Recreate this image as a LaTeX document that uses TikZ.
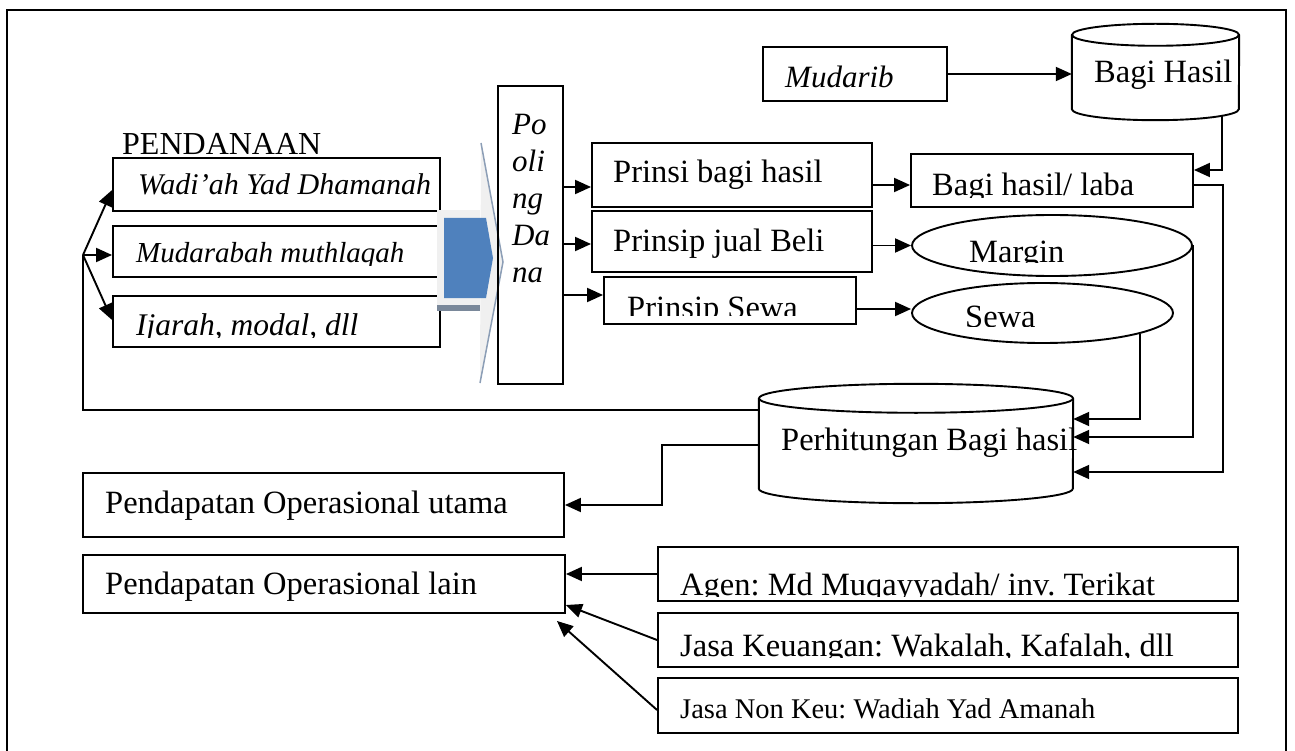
\documentclass[tikz,border=0pt]{standalone}
\usepackage{fontspec}
\setmainfont{Liberation Serif}
\usetikzlibrary{arrows.meta,shapes.geometric}

\definecolor{arrowblue}{RGB}{79,129,189}
\definecolor{arrowedge}{RGB}{140,158,182}
\definecolor{arrowshade}{RGB}{122,136,154}
\definecolor{arrowgray}{RGB}{240,240,240}

\tikzstyle{box} = [draw,line width=1.9pt,inner sep=0pt]
\tikzstyle{drum} = [inner sep=0pt]
\tikzstyle{oval} = [draw,line width=1.9pt,inner sep=0pt,ellipse]
\tikzstyle{edge} = [draw,line width=1.9pt,->,>={Triangle[length=16pt,width=14pt]}]
\tikzstyle{txt} = [inner sep=0pt,anchor=base west,font=\fontsize{32.5}{37}\selectfont]
\tikzstyle{itxt} = [txt,font=\fontsize{30}{37}\selectfont\itshape]
\tikzstyle{smalltxt} = [txt,font=\fontsize{28.5}{33}\selectfont]

\newcommand{\cuttext}[5]{\begin{scope}\clip (0,0) rectangle (1295,#4);
  \node[#1] (#2) at #3 {#5};\end{scope}}

\begin{document}
\frenchspacing
\begin{tikzpicture}[x=1pt,y=-1pt]
\useasboundingbox (0,0) rectangle (1295,751);
\draw[line width=2.4pt] (7,751) -- (7,10) -- (1286,10) -- (1286,751);

\foreach \name/\x/\y/\w/\h in {wadiah/276.5/184.5/327/53, mudarabah/276.5/251.5/327/51,
                               ijarah/276.5/321.5/327/51, mudarib/855/74/184/54,
                               prinsi/732/175/280/64, jual/732/241.5/280/61,
                               sewabox/730/300.5/252/47, laba/1052/180.5/282/53,
                               utama/323.5/505/481/64, lain/324/584/482/58,
                               agen/948/574/580/54, jasakeu/948/640/580/54,
                               jasanon/948/705.5/580/55}{
  \node[box,minimum width=\w pt,minimum height=\h pt] (\name) at (\x,\y) {};
}

% panah pendanaan
\fill[arrowgray] (437,210) rectangle (480,307);
\fill[arrowgray] (481,143) -- (503,262) -- (480,383) -- cycle;
\draw[line width=1.5pt,arrowedge] (481,143) -- (503,262) -- (480,383);
\fill[arrowshade] (437,305) rectangle (480,311);
\fill[arrowblue] (444,218) -- (486,218) -- (493,258) -- (486,298) -- (444,298) -- cycle;

\node[box,minimum width=65pt,minimum height=298pt] (poling) at (530.5,235) {};
\node[oval,minimum width=280pt,minimum height=61pt] (margin) at (1052,245.5) {};
\node[oval,minimum width=261pt,minimum height=60pt] (sewa) at (1042.5,313) {};

% tabung
\foreach \name/\x/\y/\rx/\ry/\h in {bagihasil/1155.5/72/83.5/11/96, perhit/916/443.5/157/14.5/119}{
  \node[drum,minimum width=2*\rx pt,minimum height=\h pt] (\name) at (\x,\y) {};
  \draw[line width=1.9pt] ([yshift=-\ry pt]\name.north) ellipse [x radius=\rx pt,y radius=\ry pt]
    ([yshift=-\ry pt]\name.north west) -- ([yshift=\ry pt]\name.south west)
    arc[start angle=180,end angle=360,x radius=\rx pt,y radius=\ry pt]
    -- ([yshift=-\ry pt]\name.north east);
}

\node[txt,font=\fontsize{32}{37}\selectfont] (pendanaan) at (122,155) {PENDANAAN};
\node[itxt] (wadiahtxt) at (138,195) {Wadi’ah Yad Dhamanah};
\cuttext{itxt,font=\fontsize{29}{37}\selectfont\itshape}{mudarabahtxt}{(136,263)}{266}{Mudarabah muthlaqah}
\cuttext{itxt,font=\fontsize{31.5}{37}\selectfont\itshape}{ijarahtxt}{(136,335)}{337}{Ijarah, modal, dll}
\foreach \t [count=\i] in {Po,oli,ng,Da,na}
  \node[itxt,font=\fontsize{31}{37}\selectfont\itshape] (pol\i) at (512,98+37*\i) {\t};
\node[itxt,font=\fontsize{31}{37}\selectfont\itshape] (mudaribtxt) at (785,88) {Mudarib};
\node[txt] (bagihasiltxt) at (1094,83) {Bagi Hasil};
\node[txt] (prinsitxt) at (613,183) {Prinsi bagi hasil};
\node[txt] (jualtxt) at (613,252) {Prinsip jual Beli};
\cuttext{txt}{sewaboxtxt}{(627,318)}{315}{Prinsip Sewa}
\cuttext{txt}{labatxt}{(932,196)}{198}{Bagi hasil/ laba}
\cuttext{txt}{margintxt}{(969,262)}{263}{Margin}
\cuttext{txt}{sewatxt}{(965,327)}{326}{Sewa}
\node[txt] (perhittxt) at (781,450) {Perhitungan Bagi hasil};
\node[txt] (utamatxt) at (105,513) {Pendapatan Operasional utama};
\node[txt] (laintxt) at (105,594) {Pendapatan Operasional lain};
\cuttext{txt}{agentxt}{(680,595)}{596}{Agen: Md Muqayyadah/ inv. Terikat}
\cuttext{txt}{jasakeutxt}{(680,656)}{657}{Jasa Keuangan: Wakalah, Kafalah, dll}
\node[smalltxt] (jasanontxt) at (680,718) {Jasa Non Keu: Wadiah Yad Amanah};

\coordinate (fork) at (83,255);
\foreach \dest/\dy in {wadiah/-5.5, mudarabah/-3.5, ijarah/1.5}
  \draw[edge] (fork) -- ([yshift=\dy pt]\dest.west);
\draw[line width=1.9pt] ([yshift=33.5pt]perhit.west) -| (fork);
\foreach \dest/\dy in {prinsi/-12, jual/-2.5, sewabox/5.5}
  \draw[edge] ([yshift=\dy pt]\dest.west -| poling.east) -- ([yshift=\dy pt]\dest.west);

\draw[edge] (mudarib.east) -- (mudarib.east -| bagihasil.west);
\draw[edge] ([shift={(66.5pt,4pt)}]bagihasil.south) |- ([yshift=10.5pt]laba.east);
\draw[edge] ([yshift=-10pt]prinsi.east) -- ([yshift=-10pt]prinsi.east -| laba.west);
\draw[edge] (margin.west -| jual.east) -- (margin.west);
\draw[edge] ([yshift=4pt]sewa.west -| sewabox.east) -- ([yshift=4pt]sewa.west);
\draw[edge] ([yshift=-4.5pt]laba.east) -- ++(29pt,0) |- ([yshift=-28.5pt]perhit.east);
\draw[edge] (margin.east) |- ([yshift=6.5pt]perhit.east);
\draw[edge] (sewa.-12) |- ([yshift=24.5pt]perhit.east);
\draw[edge] ([yshift=-1.5pt]perhit.west) -- ++(-97pt,0) |- (utama.east);

\draw[edge] (agen.west) -- (agen.west -| lain.east);
\draw[edge] (jasakeu.west) -- ([yshift=-21pt]lain.east);
\draw[edge] ([yshift=-4.5pt]jasanon.west) -- ([shift={(-9pt,-7pt)}]lain.south east);
\end{tikzpicture}
\end{document}
